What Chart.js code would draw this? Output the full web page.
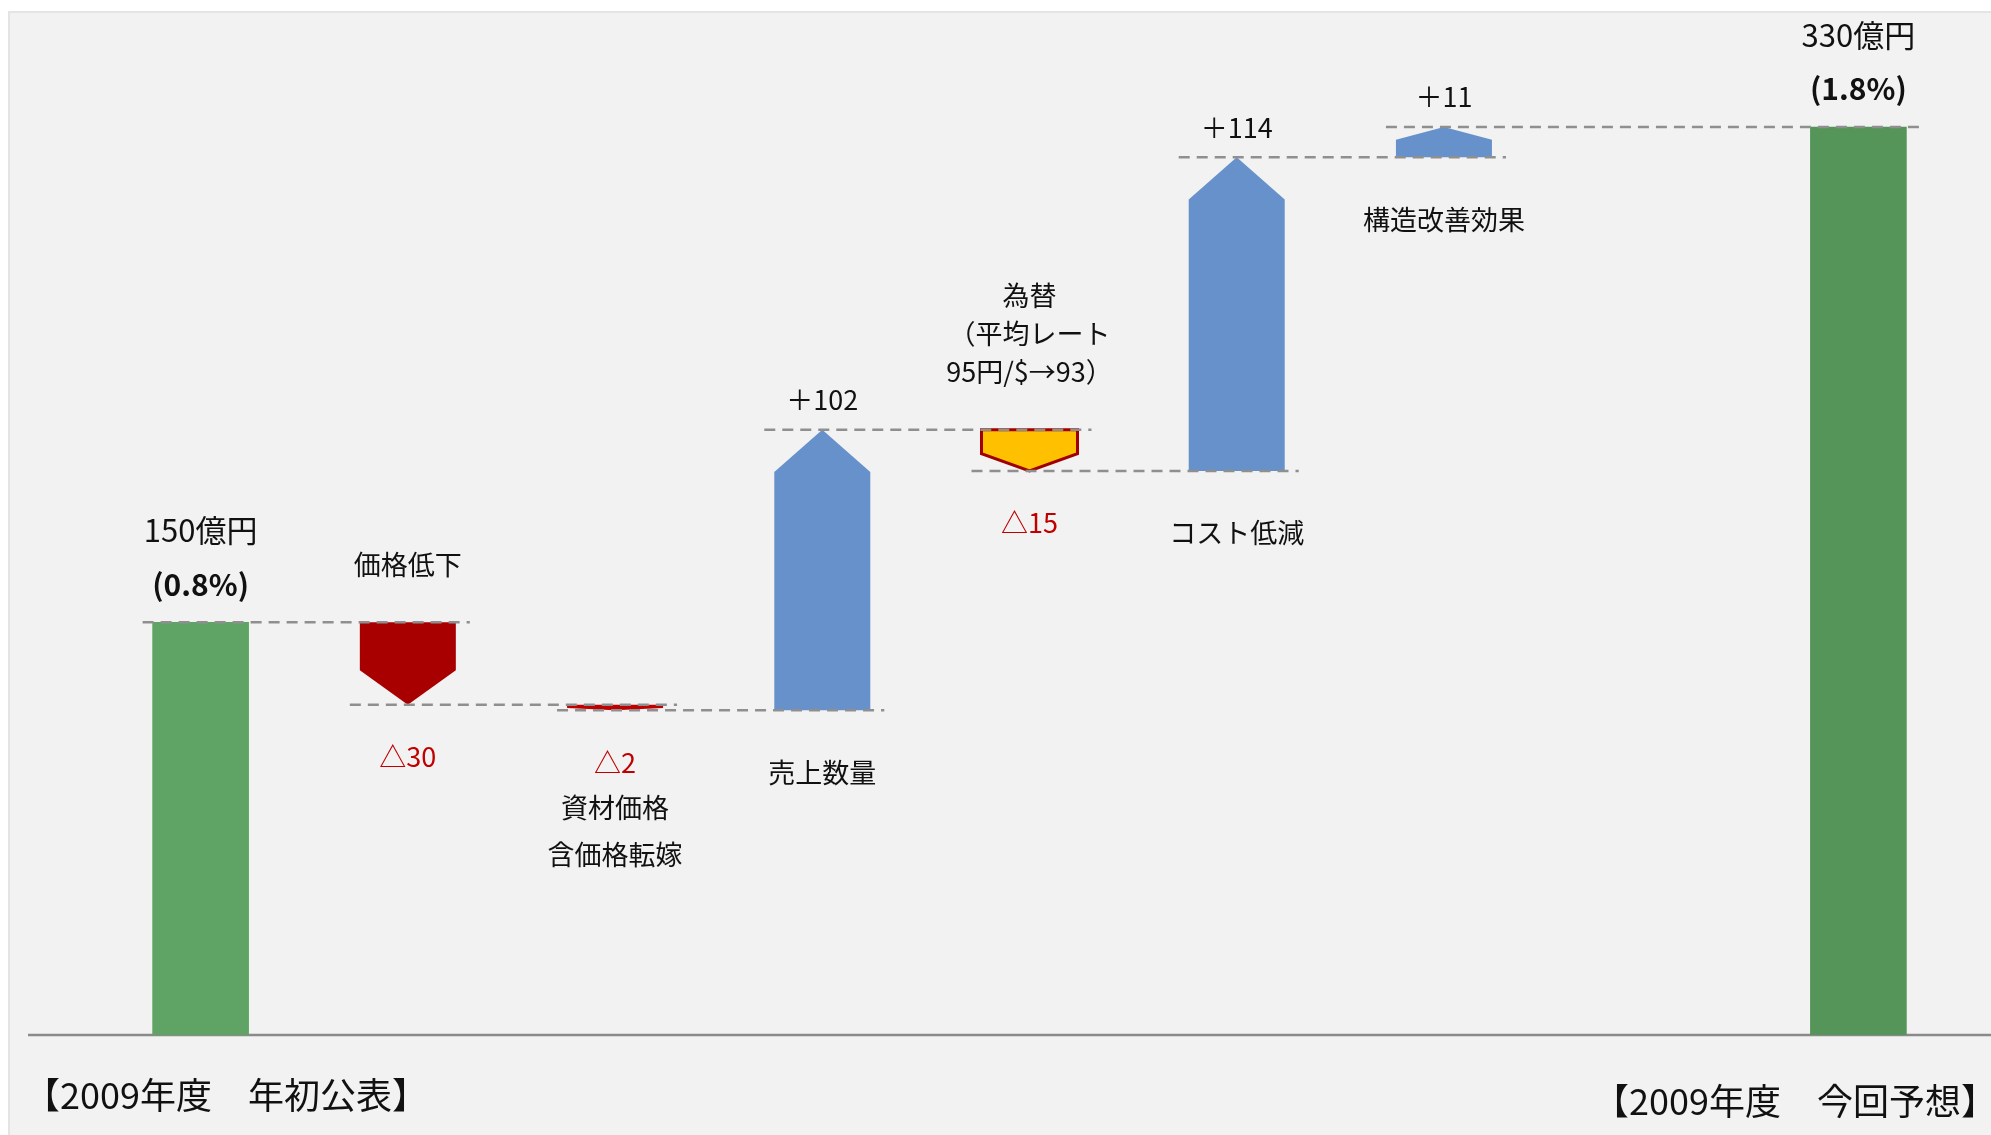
<!DOCTYPE html>
<html lang="ja">
<head>
<meta charset="utf-8">
<title>2009年度 営業利益 増減要因</title>
<script src="https://cdn.jsdelivr.net/npm/chart.js@4"></script>
<style>
  html, body { margin: 0; padding: 0; background: #ffffff; }
  #wrap { width: 1991px; height: 1135px; position: relative; }
</style>
</head>
<body>
<div id="wrap"><canvas id="bridge"></canvas></div>
<script>
// Operating profit bridge, 2009 initial forecast -> current forecast (億円)
const categories = ['年初公表', '価格低下', '資材価格含価格転嫁', '売上数量', '為替', 'コスト低減', '構造改善効果', '今回予想'];
const amounts = [150, -30, -2, 102, -15, 114, 11, 330];
const totalFlags = [true, false, false, false, false, false, false, true];
const margins = ['0.8%', null, null, null, null, null, null, '1.8%'];
const nameLines = [[], ['価格低下'], ['資材価格', '含価格転嫁'], ['売上数量'], ['為替', '（平均レート', '95円/$→93）'], ['コスト低減'], ['構造改善効果'], []];
const periodLabels = ['【2009年度　年初公表】', '【2009年度　今回予想】'];

// colours per item
const fills = ['#5fa464', '#a80000', '#bf0000', '#6691cb', '#ffc000', '#6691cb', '#6691cb', '#56955a'];
const outlines = [null, null, null, null, '#a00000', null, null, null];
// where the item name goes relative to its arrow
const namePlacement = [null, 'above', 'under', 'below', 'above', 'below', 'below', null];

const FONT = '"Noto Sans CJK JP", "Noto Sans", sans-serif';

// running totals -> floating ranges
let running = 0;
const ranges = amounts.map((v, i) => {
  if (totalFlags[i]) { running = v; return [0, v]; }
  const from = running;
  running += v;
  return [from, running];
});

// leave an empty slot before the final total
const gapAt = categories.length - 1;
const labels = [...categories.slice(0, gapAt), '', ...categories.slice(gapAt)];
const barData = [...ranges.slice(0, gapAt), null, ...ranges.slice(gapAt)];
const slotOf = i => (i < gapAt ? i : i + 1);
const catOf = s => (s < gapAt ? s : s === gapAt ? -1 : s - 1);

function drawArrow(ctx, bar, up, fill, stroke) {
  const half = bar.width / 2;
  const top = Math.min(bar.y, bar.base);
  const bottom = Math.max(bar.y, bar.base);
  const head = Math.min((bottom - top) * 0.42, bar.width * 0.44);
  const l = bar.x - half, r = bar.x + half;
  ctx.beginPath();
  if (up) {
    ctx.moveTo(l, bottom);
    ctx.lineTo(l, top + head);
    ctx.lineTo(bar.x, top);
    ctx.lineTo(r, top + head);
    ctx.lineTo(r, bottom);
  } else {
    ctx.moveTo(l, top);
    ctx.lineTo(r, top);
    ctx.lineTo(r, bottom - head);
    ctx.lineTo(bar.x, bottom);
    ctx.lineTo(l, bottom - head);
  }
  ctx.closePath();
  ctx.fillStyle = fill;
  ctx.fill();
  if (stroke) {
    ctx.lineWidth = 3;
    ctx.lineJoin = 'miter';
    ctx.strokeStyle = stroke;
    ctx.stroke();
  }
}

function text(ctx, str, x, y, size, color, bold, align) {
  ctx.font = (bold ? 'bold ' : '') + size + 'px ' + FONT;
  ctx.fillStyle = color;
  ctx.textAlign = align || 'center';
  ctx.textBaseline = 'middle';
  ctx.fillText(str, x, y);
}

const bridgePlugin = {
  id: 'bridge',
  beforeDraw(chart) {
    const { ctx, width, height } = chart;
    ctx.save();
    ctx.fillStyle = '#ffffff';
    ctx.fillRect(0, 0, width, height);
    ctx.fillStyle = '#f2f2f2';
    ctx.fillRect(8, 11, width - 8, height - 11);
    ctx.strokeStyle = '#e4e4e4';
    ctx.lineWidth = 2;
    ctx.beginPath();
    ctx.moveTo(9, height);
    ctx.lineTo(9, 12);
    ctx.lineTo(width, 12);
    ctx.stroke();
    ctx.restore();
  },
  beforeDatasetsDraw(chart) {
    const { ctx, width } = chart;
    const y0 = chart.scales.y.getPixelForValue(0);
    ctx.save();
    ctx.strokeStyle = '#8a8a8a';
    ctx.lineWidth = 2.5;
    ctx.beginPath();
    ctx.moveTo(28, y0);
    ctx.lineTo(width, y0);
    ctx.stroke();
    ctx.restore();
  },
  afterDatasetsDraw(chart) {
    const { ctx, width } = chart;
    const yScale = chart.scales.y;
    const bars = chart.getDatasetMeta(0).data;
    ctx.save();

    // arrows for the changes
    amounts.forEach((v, i) => {
      if (totalFlags[i]) return;
      drawArrow(ctx, bars[slotOf(i)], v > 0, fills[i], outlines[i]);
    });

    // dashed connectors between consecutive levels
    ctx.setLineDash([11, 7]);
    ctx.strokeStyle = '#8f8f8f';
    ctx.lineWidth = 2.5;
    for (let i = 0; i < amounts.length - 1; i++) {
      const a = bars[slotOf(i)], b = bars[slotOf(i + 1)];
      const y = yScale.getPixelForValue(ranges[i][1]);
      ctx.beginPath();
      ctx.moveTo(a.x - a.width / 2 - 10, y);
      ctx.lineTo(b.x + b.width / 2 + 14, y);
      ctx.stroke();
    }
    ctx.setLineDash([]);

    // value and name labels
    amounts.forEach((v, i) => {
      const bar = bars[slotOf(i)];
      const top = Math.min(bar.y, bar.base);
      const bottom = Math.max(bar.y, bar.base);
      if (totalFlags[i]) {
        text(ctx, v + '億円', bar.x, top - 92, 31, '#111111', false);
        if (margins[i]) text(ctx, '(' + margins[i] + ')', bar.x, top - 38, 30, '#111111', true);
        return;
      }
      const lines = nameLines[i];
      if (v > 0) {
        text(ctx, '＋' + v, bar.x, top - 30, 27, '#111111', false);
        lines.forEach((s, k) => text(ctx, s, bar.x, bottom + 62 + k * 44, 27, '#111111', false));
      } else {
        const vy = bottom + 52;
        text(ctx, '△' + Math.abs(v), bar.x, vy, 27, '#c00000', false);
        if (namePlacement[i] === 'above') {
          const n = lines.length;
          lines.forEach((s, k) => text(ctx, s, bar.x, top - 58 - (n - 1 - k) * 38, 27, '#111111', false));
        } else {
          lines.forEach((s, k) => text(ctx, s, bar.x, vy + 45 + k * 47, 27, '#111111', false));
        }
      }
    });

    // period captions along the bottom
    text(ctx, periodLabels[0], 24, 1095, 36, '#111111', false, 'left');
    text(ctx, periodLabels[1], width + 6, 1101, 36, '#111111', false, 'right');
    ctx.restore();
  }
};

new Chart(document.getElementById('bridge'), {
  type: 'bar',
  data: {
    labels: labels,
    datasets: [{
      data: barData,
      backgroundColor: c => {
        const k = catOf(c.dataIndex);
        return k >= 0 && totalFlags[k] ? fills[k] : 'rgba(0,0,0,0)';
      },
      borderWidth: 0,
      barThickness: 96
    }]
  },
  options: {
    responsive: true,
    maintainAspectRatio: false,
    animation: false,
    layout: { padding: { left: 97, right: 29, top: 17, bottom: 100 } },
    plugins: { legend: { display: false }, tooltip: { enabled: false } },
    scales: {
      x: { display: false },
      y: { display: false, min: 0, max: 370 }
    }
  },
  plugins: [bridgePlugin]
});
</script>
</body>
</html>
